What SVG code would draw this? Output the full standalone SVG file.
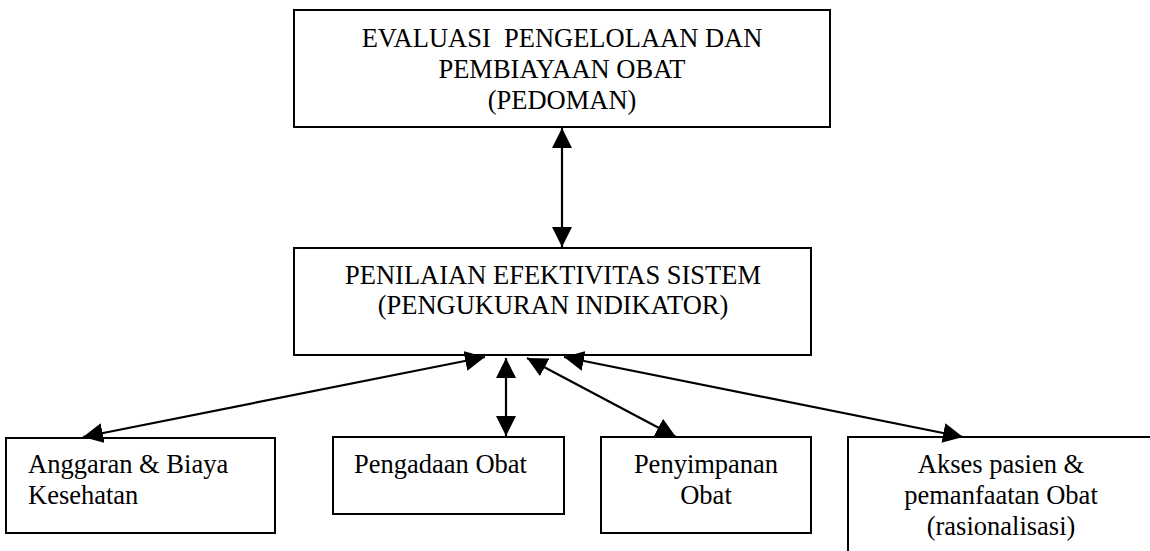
<svg xmlns="http://www.w3.org/2000/svg" width="1150" height="551" viewBox="0 0 1150 551">
<style>
.box{fill:#fff;stroke:#000;stroke-width:2}
.t{font-family:"Liberation Serif","Times New Roman",serif;font-size:26.5px;fill:#000;white-space:pre}
.c{text-anchor:middle}
.ln{stroke:#000;stroke-width:2.2;fill:none;marker-start:url(#ah);marker-end:url(#ah)}
</style>
<defs>
<marker id="ah" viewBox="0 0 20 20" refX="20" refY="10" markerWidth="20" markerHeight="20" markerUnits="userSpaceOnUse" orient="auto-start-reverse">
<path d="M0,0 L20,10 L0,20 z" fill="#000"/>
</marker>
</defs>
<rect width="1150" height="551" fill="#fff"/>
<g id="node-evaluasi">
<rect class="box" x="294" y="10" width="536" height="117"/>
<text class="t c" x="562" y="47">EVALUASI  PENGELOLAAN DAN</text>
<text class="t c" x="562" y="78">PEMBIAYAAN OBAT</text>
<text class="t c" x="562" y="109">(PEDOMAN)</text>
</g>
<g id="node-penilaian">
<rect class="box" x="294" y="248" width="517" height="107"/>
<text class="t c" x="553" y="284">PENILAIAN EFEKTIVITAS SISTEM</text>
<text class="t c" x="553" y="314">(PENGUKURAN INDIKATOR)</text>
</g>
<g id="node-anggaran">
<rect class="box" x="6" y="438" width="269" height="95"/>
<text class="t" x="28" y="473">Anggaran &amp; Biaya</text>
<text class="t" x="28" y="504">Kesehatan</text>
</g>
<g id="node-pengadaan">
<rect class="box" x="333" y="437" width="231" height="77"/>
<text class="t" x="354" y="473">Pengadaan Obat</text>
</g>
<g id="node-penyimpanan">
<rect class="box" x="601" y="437" width="210" height="96"/>
<text class="t c" x="706" y="473">Penyimpanan</text>
<text class="t c" x="706" y="504">Obat</text>
</g>
<g id="node-akses">
<rect class="box" x="848" y="437" width="400" height="200"/>
<text class="t c" x="1001" y="473">Akses pasien &amp;</text>
<text class="t c" x="1001" y="504">pemanfaatan Obat</text>
<text class="t c" x="1001" y="535">(rasionalisasi)</text>
</g>
<g id="connectors">
<line class="ln" x1="562" y1="128" x2="562" y2="247"/>
<line class="ln" x1="485" y1="357" x2="83" y2="437"/>
<line class="ln" x1="506" y1="358" x2="506" y2="436"/>
<line class="ln" x1="527" y1="358" x2="676" y2="437"/>
<line class="ln" x1="564" y1="357" x2="963" y2="437"/>
</g>
</svg>
